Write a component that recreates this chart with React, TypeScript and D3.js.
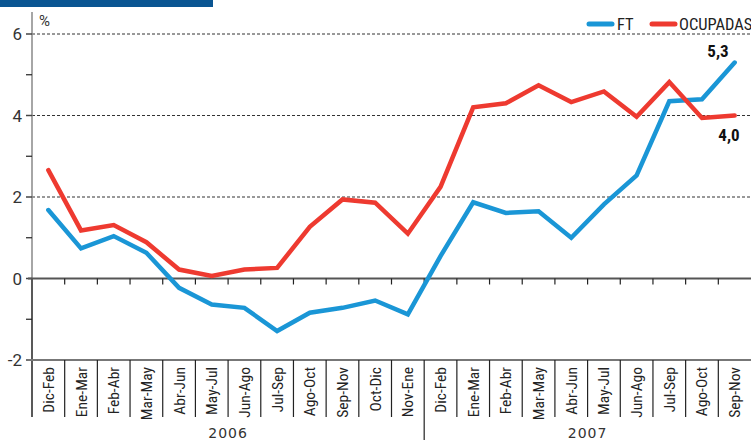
import React from "react";
import { scaleBand, scaleLinear, line } from "d3";

// categories (three-month moving periods)
const periods2006 = ["Dic-Feb", "Ene-Mar", "Feb-Abr", "Mar-May", "Abr-Jun", "May-Jul", "Jun-Ago", "Jul-Sep", "Ago-Oct", "Sep-Nov", "Oct-Dic", "Nov-Ene"];
const periods2007 = ["Dic-Feb", "Ene-Mar", "Feb-Abr", "Mar-May", "Abr-Jun", "May-Jul", "Jun-Ago", "Jul-Sep", "Ago-Oct", "Sep-Nov"];
const years = ["2006", "2007"];

// series values (%)
const ftValues = [1.68, 0.74, 1.04, 0.63, -0.23, -0.64, -0.72, -1.29, -0.84, -0.72, -0.54, -0.88, 0.55, 1.87, 1.61, 1.65, 1.0, 1.82, 2.53, 4.35, 4.4, 5.3];
const ocupadasValues = [2.66, 1.18, 1.31, 0.89, 0.22, 0.06, 0.22, 0.26, 1.27, 1.94, 1.86, 1.1, 2.25, 4.2, 4.3, 4.74, 4.33, 4.59, 3.97, 4.82, 3.94, 4.0];

const yTicks = [-2, 0, 2, 4, 6];
const yMinorTicks = [-1, 1, 3, 5];

const W = 751;
const H = 444;
const BLUE = "#1a96d6";
const RED = "#ee3a30";
const NARROW = "'Liberation Sans Narrow', 'Roboto Condensed', 'Arial Narrow', sans-serif";

export default function App() {
  const labels = [...periods2006, ...periods2007];
  const idx = labels.map((_, i) => i);

  const x = scaleBand<number>().domain(idx).range([32, 751]);
  const y = scaleLinear().domain([-2, 6]).range([360, 34]);
  const cx = (i: number) => (x(i) as number) + x.bandwidth() / 2;

  const lineGen = line<number>()
    .x((_, i) => cx(i))
    .y((d) => y(d));

  const yearSpans = [
    { label: years[0], start: 0, end: periods2006.length },
    { label: years[1], start: periods2006.length, end: labels.length },
  ];

  const last = labels.length - 1;

  return (
    <svg width={W} height={H} style={{ position: "absolute", left: 0, top: 0, background: "#fff" }}>
      {/* header bar */}
      <rect x={0} y={0} width={213} height={7} fill="#0a5592" />

      {/* dashed grid */}
      {yTicks.filter((t) => t > 0).map((t) => (
        <line key={t} x1={32} x2={W} y1={y(t)} y2={y(t)} stroke="#333" strokeWidth={1} strokeDasharray="3,2" />
      ))}

      {/* y axis */}
      <line x1={32} x2={32} y1={12} y2={y(0)} stroke="#888" strokeWidth={1.5} />
      <line x1={32} x2={32} y1={y(0)} y2={417} stroke="#222" strokeWidth={1.5} />
      {yTicks.map((t) => (
        <g key={t}>
          <line x1={26} x2={32} y1={y(t)} y2={y(t)} stroke="#444" strokeWidth={1.5} />
          <text x={22} y={y(t)} dy="0.36em" textAnchor="end" fontFamily="Roboto, sans-serif" fontSize={17} fill="#333">
            {t}
          </text>
        </g>
      ))}
      {yMinorTicks.map((t) => (
        <line key={t} x1={26} x2={32} y1={y(t)} y2={y(t)} stroke="#222" strokeWidth={1.2} />
      ))}
      <text x={39} y={26} fontFamily="Roboto, sans-serif" fontSize={15} fill="#333">%</text>

      {/* zero line and bottom line */}
      <line x1={28} x2={W} y1={y(0)} y2={y(0)} stroke="#555" strokeWidth={1.8} />
      <line x1={28} x2={W} y1={y(-2)} y2={y(-2)} stroke="#777" strokeWidth={2} />

      {/* category separators */}
      {idx.map((i) => {
        const xs = x(i) as number;
        const isYear = i === periods2006.length;
        return (
          <g key={i}>
            {i > 0 && <line x1={xs} x2={xs} y1={y(0)} y2={y(0) + 6} stroke="#222" strokeWidth={1.2} />}
            {i > 0 && <line x1={xs} x2={xs} y1={y(-2)} y2={isYear ? 440 : 417} stroke="#222" strokeWidth={1.2} />}
          </g>
        );
      })}

      {/* category labels */}
      {labels.map((l, i) => (
        <text
          key={i}
          transform={`translate(${cx(i) + 5.5},367) rotate(-90)`}
          textAnchor="end"
          fontFamily={NARROW}
          fontSize={15.5}
          fill="#222"
        >
          {l}
        </text>
      ))}

      {/* year labels */}
      {yearSpans.map((s) => {
        const x0 = x(s.start) as number;
        const x1 = s.end >= labels.length ? W : (x(s.end) as number);
        return (
          <text key={s.label} x={(x0 + x1) / 2} y={438} textAnchor="middle" fontFamily="'DejaVu Sans', sans-serif" fontSize={14} letterSpacing={1} fill="#333">
            {s.label}
          </text>
        );
      })}

      {/* series */}
      <path d={lineGen(ftValues) || ""} fill="none" stroke={BLUE} strokeWidth={4.5} strokeLinejoin="miter" strokeLinecap="round" />
      <path d={lineGen(ocupadasValues) || ""} fill="none" stroke={RED} strokeWidth={4.5} strokeLinejoin="miter" strokeLinecap="round" />

      {/* end labels */}
      <text x={cx(last) - 6} y={y(ftValues[last]) - 6} textAnchor="end" fontFamily={NARROW} fontWeight="bold" fontSize={17} fill="#111">
        5,3
      </text>
      <text x={cx(last) + 5} y={y(ocupadasValues[last]) + 25} textAnchor="end" fontFamily={NARROW} fontWeight="bold" fontSize={17} fill="#111">
        4,0
      </text>

      {/* legend */}
      <line x1={589} x2={612} y1={24} y2={24} stroke={BLUE} strokeWidth={5} strokeLinecap="round" />
      <text x={617} y={30} fontFamily={NARROW} fontSize={16.5} fill="#222">FT</text>
      <line x1={652} x2={675} y1={24} y2={24} stroke={RED} strokeWidth={5} strokeLinecap="round" />
      <text x={679} y={30} fontFamily={NARROW} fontSize={16.5} fill="#222">OCUPADAS</text>
    </svg>
  );
}
